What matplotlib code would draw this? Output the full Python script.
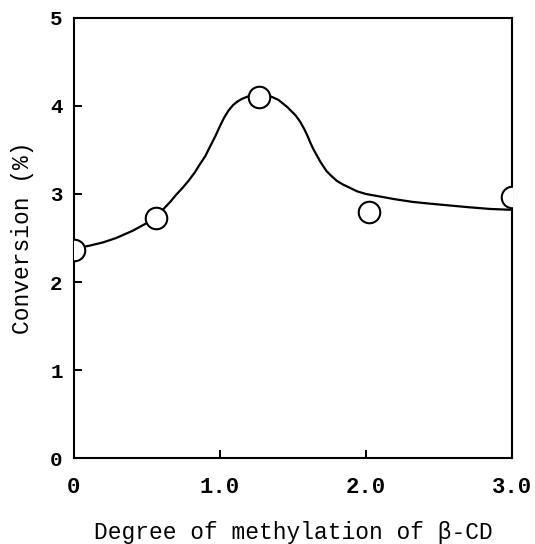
import matplotlib
matplotlib.use("Agg")
import matplotlib.pyplot as plt

# measured points
deg_pts = [0.0, 0.56, 1.27, 2.02, 3.0]
conv_pts = [2.36, 2.73, 4.10, 2.80, 2.97]

curve_x = [0.0, 0.10, 0.20, 0.29, 0.40, 0.50, 0.56, 0.62, 0.66, 0.70, 0.75, 0.79,
           0.83, 0.86, 0.90, 0.93, 0.97, 1.00, 1.03, 1.06, 1.09, 1.12, 1.15, 1.18,
           1.21, 1.24, 1.27, 1.30, 1.33, 1.36, 1.40, 1.43, 1.46, 1.49, 1.52, 1.55,
           1.58, 1.60, 1.62, 1.64, 1.67, 1.69, 1.71, 1.73, 1.76, 1.80, 1.84, 1.89,
           1.94, 2.00, 2.10, 2.20, 2.32, 2.44, 2.57, 2.70, 2.85, 3.0]
curve_y = [2.38, 2.41, 2.45, 2.50, 2.58, 2.67, 2.74, 2.84, 2.91, 2.99, 3.08, 3.16,
           3.25, 3.33, 3.43, 3.53, 3.66, 3.77, 3.87, 3.95, 4.01, 4.05, 4.08, 4.10,
           4.12, 4.13, 4.13, 4.13, 4.12, 4.10, 4.07, 4.03, 3.99, 3.94, 3.89, 3.82,
           3.73, 3.66, 3.58, 3.51, 3.42, 3.36, 3.31, 3.26, 3.21, 3.15, 3.11, 3.07,
           3.03, 3.00, 2.97, 2.94, 2.91, 2.89, 2.87, 2.85, 2.83, 2.82]

xticks = [0, 1.0, 2.0, 3.0]
xlabels = ["0", "1.0", "2.0", "3.0"]
yticks = [0, 1, 2, 3, 4, 5]

mono = ["Liberation Mono", "DejaVu Sans Mono"]

fig = plt.figure(figsize=(5.35, 5.44), dpi=100)
ax = fig.add_axes([0.138, 0.158, 0.819, 0.809])

ax.plot(curve_x, curve_y, color="black", lw=1.6, zorder=2)
ax.plot(deg_pts, conv_pts, "o", ms=15.5, mfc="white", mec="black", mew=1.5, zorder=3)

ax.set_xlim(0, 3.0)
ax.set_ylim(0, 5)
ax.set_xticks(xticks)
ax.set_xticklabels(xlabels, family=mono, fontsize=16, fontweight="bold")
ax.set_yticks(yticks)
ax.set_yticklabels([str(v) for v in yticks], family=mono, fontsize=15, fontweight="bold")
ax.tick_params(direction="in", length=6, width=1.4)
ax.tick_params(axis="x", pad=14)
ax.tick_params(axis="y", pad=8)
for s in ax.spines.values():
    s.set_linewidth(1.5)

ax.set_xlabel("Degree of methylation of β-CD", family=mono, fontsize=16.5, labelpad=16)
ax.set_ylabel("Conversion (%)", family=mono, fontsize=16.5, labelpad=12)

fig.savefig("out.png", dpi=100)
